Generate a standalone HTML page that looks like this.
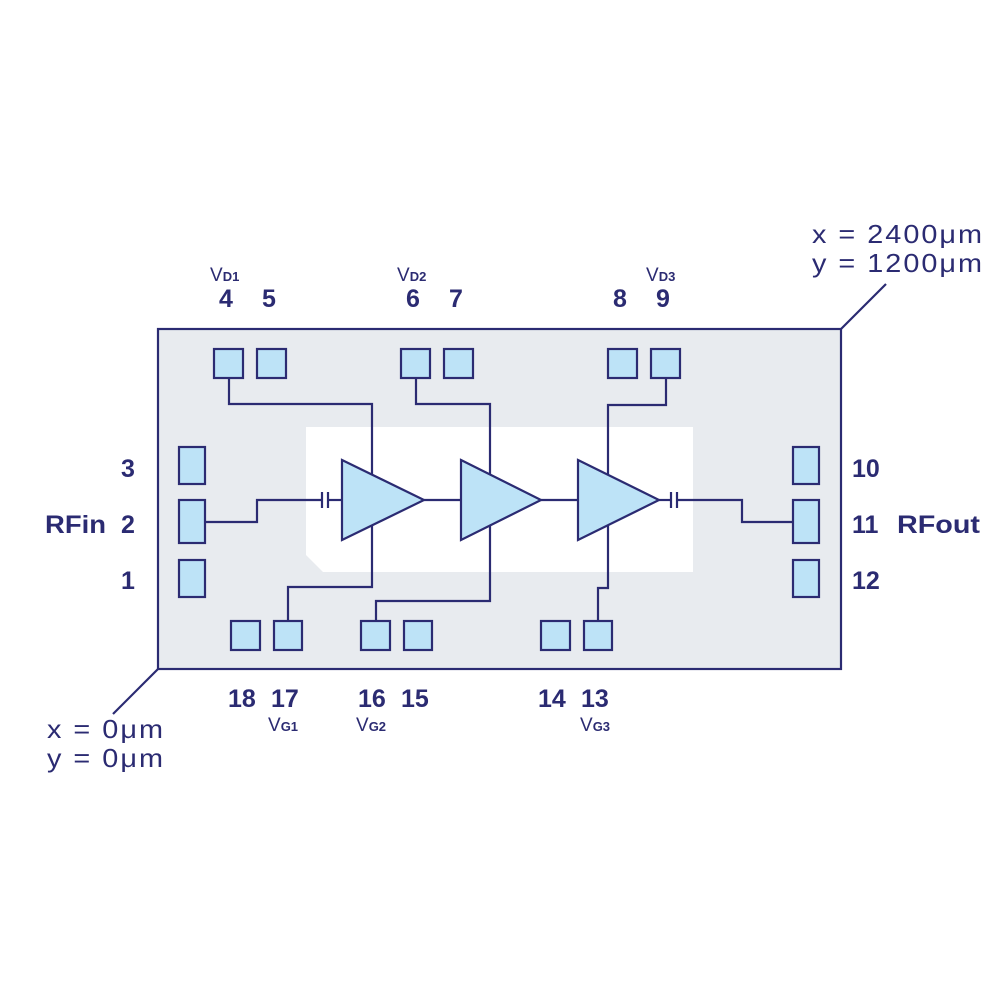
<!DOCTYPE html>
<html><head><meta charset="utf-8"><style>
html,body{margin:0;padding:0;background:#fff;}
svg{display:block;}
text{font-family:"Liberation Sans","DejaVu Sans",sans-serif;fill:#2b2b72;}
.n{font-size:25px;font-weight:bold;}
.c{font-size:26px;letter-spacing:1.8px;}
.v{font-size:19px;}
.s{font-size:13px;font-weight:bold;}
</style></head><body>
<svg width="1000" height="1000" viewBox="0 0 1000 1000" xmlns="http://www.w3.org/2000/svg">
<g stroke="#2b2b72" stroke-width="2.2" fill="none">
<rect x="158" y="329" width="683" height="340" fill="#e8ebef"/>
<polygon points="306,427 693,427 693,572 323,572 306,555" fill="#fff" stroke="none"/>
<line x1="841" y1="329" x2="886" y2="284"/>
<line x1="158" y1="669" x2="113" y2="714"/>
<polyline points="229,378 229,404 372,404 372,476"/>
<polyline points="372,524 372,587 288,587 288,621"/>
<polyline points="416,378 416,404 490,404 490,476"/>
<polyline points="490,524 490,601 376,601 376,621"/>
<polyline points="666,378 666,405 608,405 608,476"/>
<polyline points="608,524 608,588 598,588 598,621"/>
<polyline points="205,522 257,522 257,500 322,500"/>
<line x1="328" y1="500" x2="342" y2="500"/>
<line x1="322" y1="492" x2="322" y2="508"/>
<line x1="328" y1="492" x2="328" y2="508"/>
<line x1="424" y1="500" x2="461" y2="500"/>
<line x1="541" y1="500" x2="578" y2="500"/>
<line x1="659" y1="500" x2="671" y2="500"/>
<line x1="671" y1="492" x2="671" y2="508"/>
<line x1="677" y1="492" x2="677" y2="508"/>
<polyline points="677,500 742,500 742,522 793,522"/>
<polygon points="342,460 424,500 342,540" fill="#bde3f7"/>
<polygon points="461,460 541,500 461,540" fill="#bde3f7"/>
<polygon points="578,460 659,500 578,540" fill="#bde3f7"/>
<g fill="#bde3f7">
<rect x="214" y="349" width="29" height="29"/><rect x="257" y="349" width="29" height="29"/>
<rect x="401" y="349" width="29" height="29"/><rect x="444" y="349" width="29" height="29"/>
<rect x="608" y="349" width="29" height="29"/><rect x="651" y="349" width="29" height="29"/>
<rect x="179" y="447" width="26" height="37"/><rect x="179" y="500" width="26" height="43"/><rect x="179" y="560" width="26" height="37"/>
<rect x="793" y="447" width="26" height="37"/><rect x="793" y="500" width="26" height="43"/><rect x="793" y="560" width="26" height="37"/>
<rect x="231" y="621" width="29" height="29"/><rect x="274" y="621" width="28" height="29"/>
<rect x="361" y="621" width="29" height="29"/><rect x="404" y="621" width="28" height="29"/>
<rect x="541" y="621" width="29" height="29"/><rect x="584" y="621" width="28" height="29"/>
</g>
</g>
<text class="n" x="219" y="307">4</text><text class="n" x="262" y="307">5</text>
<text class="n" x="406" y="307">6</text><text class="n" x="449" y="307">7</text>
<text class="n" x="613" y="307">8</text><text class="n" x="656" y="307">9</text>
<text class="v" x="210" y="281">V<tspan class="s">D1</tspan></text>
<text class="v" x="397" y="281">V<tspan class="s">D2</tspan></text>
<text class="v" x="646" y="281">V<tspan class="s">D3</tspan></text>
<text class="n" x="121" y="477">3</text>
<text class="n" x="45" y="533" textLength="61" lengthAdjust="spacingAndGlyphs">RFin</text><text class="n" x="121" y="533">2</text>
<text class="n" x="121" y="589">1</text>
<text class="n" x="852" y="477">10</text>
<text class="n" x="852" y="533">11</text><text class="n" x="897" y="533" textLength="83" lengthAdjust="spacingAndGlyphs">RFout</text>
<text class="n" x="852" y="589">12</text>
<text class="n" x="228" y="707">18</text><text class="n" x="271" y="707">17</text>
<text class="n" x="358" y="707">16</text><text class="n" x="401" y="707">15</text>
<text class="n" x="538" y="707">14</text><text class="n" x="581" y="707">13</text>
<text class="v" x="268" y="731">V<tspan class="s">G1</tspan></text>
<text class="v" x="356" y="731">V<tspan class="s">G2</tspan></text>
<text class="v" x="580" y="731">V<tspan class="s">G3</tspan></text>
<text class="c" x="812" y="243" textLength="172" lengthAdjust="spacingAndGlyphs">x = 2400μm</text>
<text class="c" x="812" y="272" textLength="172" lengthAdjust="spacingAndGlyphs">y = 1200μm</text>
<text class="c" x="47" y="738" textLength="118" lengthAdjust="spacingAndGlyphs">x = 0μm</text>
<text class="c" x="47" y="767" textLength="118" lengthAdjust="spacingAndGlyphs">y = 0μm</text>
</svg>
</body></html>
